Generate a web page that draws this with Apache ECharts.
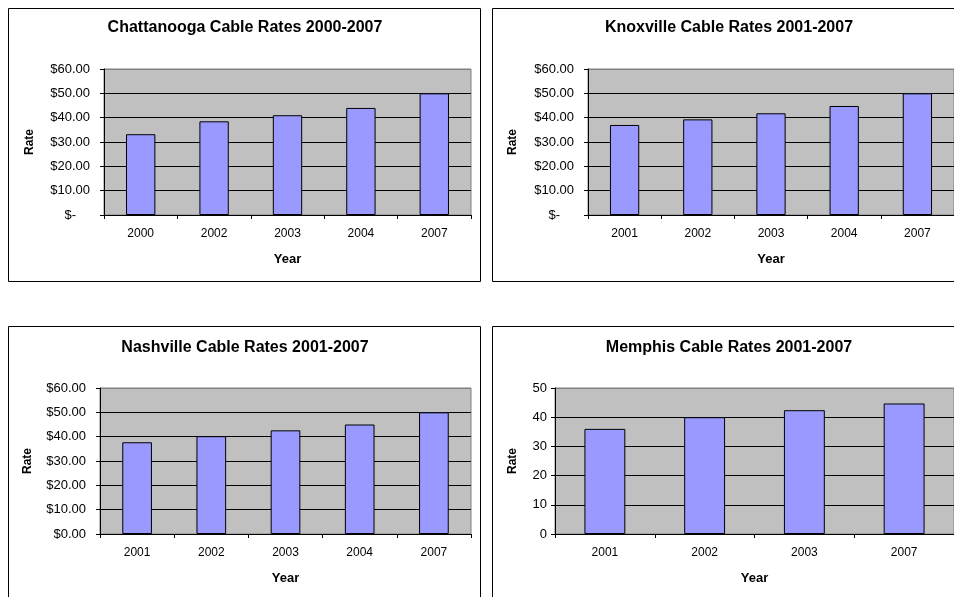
<!DOCTYPE html>
<html><head><meta charset="utf-8">
<script src="https://cdn.jsdelivr.net/npm/echarts@6/dist/echarts.min.js"></script>
<style>html,body{margin:0;padding:0;background:#fff}#c{width:954px;height:597px}</style>
</head><body><div id="c"></div>
<script>
// ---- data ----
const chattYears = ['2000', '2002', '2003', '2004', '2007'];
const chattRates = [33.2, 38.5, 41.0, 44.0, 50.0];
const knoxYears = ['2001', '2002', '2003', '2004', '2007'];
const knoxRates = [37.0, 39.3, 41.8, 44.8, 50.0];
const nashYears = ['2001', '2002', '2003', '2004', '2007'];
const nashRates = [37.7, 40.2, 42.6, 45.0, 50.0];
const memYears = ['2001', '2002', '2003', '2007'];
const memRates = [36.0, 40.0, 42.4, 44.7];
const chartTitles = [
  'Chattanooga Cable Rates 2000-2007',
  'Knoxville Cable Rates 2001-2007',
  'Nashville Cable Rates 2001-2007',
  'Memphis Cable Rates 2001-2007'
];
const xName = 'Year';
const yName = 'Rate';

// ---- formatters ----
const fmtAccounting = v => v === 0 ? '{z|$-}' : '$' + v.toFixed(2);
const fmtDollar = v => '$' + v.toFixed(2);
const fmtPlain = v => String(v);

const FONT = '"Liberation Sans", Arial, sans-serif';

const grids = [
  { left: 104, top: 69, width: 367, height: 146 },
  { left: 588, top: 69, width: 368, height: 146 },
  { left: 100, top: 388, width: 371, height: 146 },
  { left: 555, top: 388, width: 400, height: 146 }
].map(g => Object.assign(g, { show: true, backgroundColor: '#C0C0C0', borderColor: '#808080', borderWidth: 1 }));

function makeX(i, data) {
  return {
    type: 'category', gridIndex: i, data: data,
    axisLine: { show: true, lineStyle: { color: '#000', width: 1 } },
    axisTick: { show: true, length: 4, alignWithLabel: false, lineStyle: { color: '#000' } },
    axisLabel: { fontSize: 12, color: '#000', margin: 13, fontFamily: FONT },
    splitLine: { show: false },
    name: xName, nameLocation: 'middle', nameGap: 38,
    nameTextStyle: { fontSize: 13, fontWeight: 'bold', color: '#000', fontFamily: FONT }
  };
}
function makeY(i, max, fmt, nameGap, margin) {
  const n = max / 10 + 1;
  const cols = [];
  for (let k = 0; k < n; k++) cols.push(k === n - 1 ? '#808080' : '#000');
  return {
    type: 'value', gridIndex: i, min: 0, max: max, interval: 10,
    axisLine: { show: true, lineStyle: { color: '#000', width: 1 } },
    axisTick: { show: true, length: 4, lineStyle: { color: '#000' } },
    axisLabel: {
      fontSize: 13, color: '#000', margin: margin, fontFamily: FONT, formatter: fmt,
      rich: { z: { fontSize: 13, color: '#000', fontFamily: FONT, padding: [0, 14, 0, 0] } }
    },
    splitLine: { show: true, lineStyle: { color: cols, width: 1 } },
    name: yName, nameLocation: 'middle', nameRotate: 90, nameGap: nameGap,
    nameTextStyle: { fontSize: 12, fontWeight: 'bold', color: '#000', fontFamily: FONT }
  };
}
function makeBar(i, data, w) {
  return {
    type: 'bar', xAxisIndex: i, yAxisIndex: i, data: data, barWidth: w,
    itemStyle: { color: '#9999FF', borderColor: '#000', borderWidth: 1 },
    emphasis: { disabled: true }
  };
}

const panelRects = [
  [8.5, 8.5, 472, 273], [492.5, 8.5, 500, 273], [8.5, 326.5, 472, 400], [492.5, 326.5, 500, 400]
];
const titlePos = [[245, 28], [729, 28], [245, 348], [729, 348]];

const graphic = [];
panelRects.forEach(r => graphic.push({
  type: 'rect', silent: true, z: -10,
  shape: { x: r[0], y: r[1], width: r[2], height: r[3] },
  style: { fill: '#fff', stroke: '#000', lineWidth: 1 }
}));
chartTitles.forEach((t, i) => graphic.push({
  type: 'text', silent: true, x: titlePos[i][0], y: titlePos[i][1],
  style: { text: t, fontSize: 16, fontWeight: 'bold', fontFamily: FONT, fill: '#000', align: 'center', verticalAlign: 'middle' }
}));

const option = {
  animation: false,
  backgroundColor: '#fff',
  textStyle: { fontFamily: FONT },
  graphic: graphic,
  grid: grids,
  xAxis: [makeX(0, chattYears), makeX(1, knoxYears), makeX(2, nashYears), makeX(3, memYears)],
  yAxis: [
    makeY(0, 60, fmtAccounting, 68, 14),
    makeY(1, 60, fmtAccounting, 69, 14),
    makeY(2, 60, fmtDollar, 66, 14),
    makeY(3, 50, fmtPlain, 36, 8)
  ],
  series: [
    makeBar(0, chattRates, '40%'),
    makeBar(1, knoxRates, '40%'),
    makeBar(2, nashRates, '40%'),
    makeBar(3, memRates, '41%')
  ]
};
const chart = echarts.init(document.getElementById('c'), null, { renderer: 'canvas' });
chart.setOption(option);
</script>
</body></html>
